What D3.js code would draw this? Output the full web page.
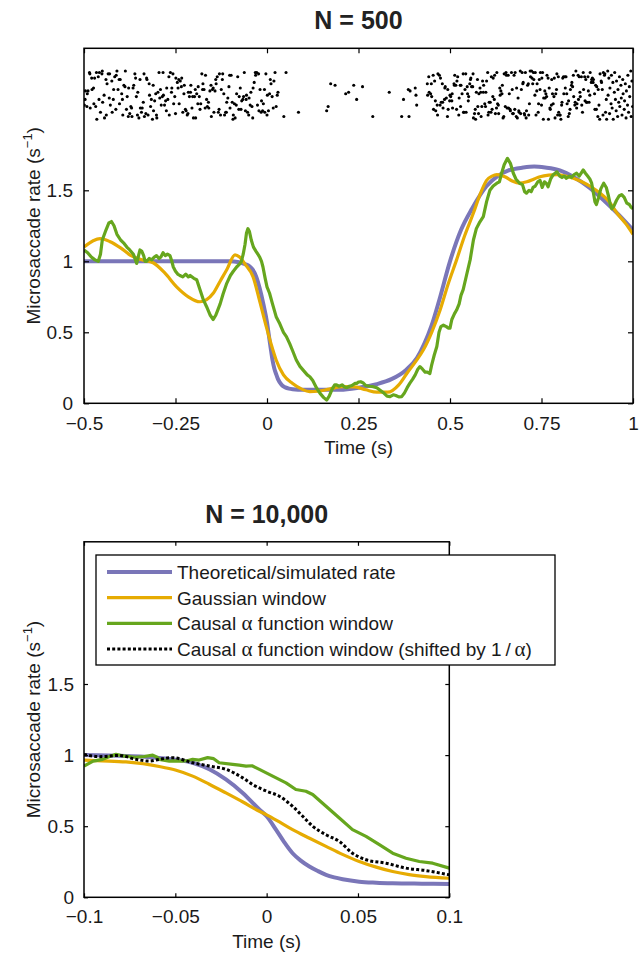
<!DOCTYPE html>
<html><head><meta charset="utf-8">
<script src="https://cdn.jsdelivr.net/npm/d3@7"></script>
<style>
body{margin:0;background:#fff}
svg{font-family:"Liberation Sans",Arial,Helvetica,sans-serif}
</style></head>
<body><svg id="chart" width="643" height="953"></svg>
<script>
// ---------------- DATA ----------------
const topTitle = "N = 500";
const bottomTitle = "N = 10,000";
const xLabel = "Time (s)";
const topXTicks = [-0.5,-0.25,0,0.25,0.5,0.75,1];
const topXTickLabels = ["\u22120.5","\u22120.25","0","0.25","0.5","0.75","1"];
const botXTicks = [-0.1,-0.05,0,0.05,0.1];
const botXTickLabels = ["\u22120.1","\u22120.05","0","0.05","0.1"];
const yTicks = [0,0.5,1,1.5];
const yTickLabels = ["0","0.5","1","1.5"];
const legendLabels = [
  ["Theoretical/simulated rate"],
  ["Gaussian window"],
  ["Causal ","\u03b1"," function window"],
  ["Causal ","\u03b1"," function window (shifted by 1\u2009/\u2009","\u03b1",")"]
];

// N = 500 : theoretical rate [t, rate]
const theoTop = [[-0.5,1],[-0.1,1],[-0.08,0.995],[-0.06,0.98],[-0.05,0.97],[-0.04,0.945],[-0.03,0.895],[-0.02,0.81],[-0.01,0.70],[0,0.57],[0.005,0.48],[0.01,0.39],[0.015,0.305],[0.02,0.245],[0.025,0.205],[0.03,0.17],[0.04,0.13],[0.05,0.112],[0.06,0.103],[0.07,0.099],[0.1,0.095],[0.2,0.096],[0.25,0.11],[0.3,0.135],[0.34,0.17],[0.38,0.235],[0.41,0.32],[0.43,0.42],[0.45,0.55],[0.47,0.72],[0.5,1.0],[0.53,1.22],[0.56,1.37],[0.6,1.53],[0.63,1.6],[0.66,1.64],[0.7,1.66],[0.73,1.667],[0.76,1.66],[0.8,1.64],[0.84,1.59],[0.88,1.52],[0.92,1.43],[0.96,1.33],[1.0,1.22]];
// N = 500 : Gaussian window estimate
const gaussTop = [[-0.5,1.10],[-0.475,1.145],[-0.456,1.16],[-0.43,1.14],[-0.4,1.095],[-0.374,1.044],[-0.34,1.01],[-0.311,0.99],[-0.28,0.92],[-0.247,0.82],[-0.215,0.75],[-0.183,0.715],[-0.165,0.73],[-0.147,0.775],[-0.128,0.86],[-0.11,0.94],[-0.0875,1.045],[-0.075,1.03],[-0.06,0.98],[-0.038,0.89],[-0.02,0.72],[-0.002,0.54],[0.012,0.41],[0.025,0.305],[0.045,0.2],[0.07,0.14],[0.095,0.1],[0.117,0.082],[0.14,0.085],[0.17,0.1],[0.208,0.117],[0.24,0.115],[0.27,0.095],[0.3,0.078],[0.33,0.078],[0.36,0.13],[0.382,0.21],[0.405,0.29],[0.427,0.375],[0.45,0.5],[0.473,0.657],[0.495,0.84],[0.518,1.01],[0.54,1.18],[0.564,1.34],[0.582,1.47],[0.6,1.57],[0.615,1.60],[0.628,1.61],[0.65,1.595],[0.67,1.565],[0.69,1.55],[0.71,1.56],[0.73,1.58],[0.746,1.596],[0.77,1.607],[0.792,1.61],[0.815,1.6],[0.837,1.585],[0.86,1.56],[0.885,1.525],[0.91,1.48],[0.935,1.42],[0.956,1.34],[0.98,1.265],[1.0,1.19]];
// N = 500 : causal alpha function window estimate
const alphaTop = [[-0.5,1.08],[-0.49,1.06],[-0.48,1.03],[-0.47,1.01],[-0.461,1.0],[-0.455,1.05],[-0.45,1.15],[-0.44,1.22],[-0.432,1.27],[-0.425,1.28],[-0.418,1.25],[-0.41,1.19],[-0.40,1.15],[-0.392,1.13],[-0.383,1.10],[-0.375,1.08],[-0.365,1.05],[-0.356,0.985],[-0.351,1.04],[-0.347,1.08],[-0.342,1.07],[-0.337,1.04],[-0.333,1.0],[-0.329,1.0],[-0.322,1.02],[-0.315,1.01],[-0.308,1.03],[-0.302,1.04],[-0.295,1.02],[-0.29,1.03],[-0.284,1.06],[-0.278,1.04],[-0.272,1.05],[-0.265,1.04],[-0.26,1.0],[-0.256,0.96],[-0.25,0.93],[-0.244,0.91],[-0.238,0.90],[-0.23,0.89],[-0.222,0.91],[-0.215,0.89],[-0.21,0.90],[-0.2,0.88],[-0.192,0.87],[-0.183,0.8],[-0.174,0.73],[-0.165,0.68],[-0.155,0.62],[-0.147,0.59],[-0.14,0.62],[-0.134,0.66],[-0.128,0.70],[-0.12,0.77],[-0.11,0.845],[-0.1,0.9],[-0.092,0.93],[-0.083,0.96],[-0.075,0.98],[-0.07,1.0],[-0.065,1.05],[-0.06,1.12],[-0.056,1.2],[-0.052,1.23],[-0.048,1.21],[-0.043,1.15],[-0.037,1.1],[-0.03,1.07],[-0.025,1.05],[-0.02,1.03],[-0.015,1.0],[-0.011,0.96],[-0.005,0.88],[0.0,0.82],[0.007,0.775],[0.015,0.7],[0.025,0.61],[0.035,0.56],[0.045,0.5],[0.053,0.47],[0.062,0.42],[0.07,0.37],[0.08,0.305],[0.09,0.26],[0.1,0.23],[0.11,0.2],[0.117,0.187],[0.125,0.16],[0.135,0.11],[0.145,0.07],[0.155,0.04],[0.163,0.023],[0.17,0.05],[0.178,0.1],[0.185,0.13],[0.19,0.13],[0.197,0.12],[0.205,0.13],[0.212,0.115],[0.218,0.11],[0.225,0.12],[0.232,0.125],[0.24,0.14],[0.245,0.14],[0.25,0.15],[0.256,0.152],[0.262,0.145],[0.27,0.125],[0.28,0.12],[0.29,0.117],[0.3,0.11],[0.31,0.09],[0.32,0.07],[0.328,0.05],[0.336,0.047],[0.345,0.06],[0.352,0.055],[0.36,0.045],[0.368,0.047],[0.375,0.07],[0.383,0.11],[0.39,0.14],[0.398,0.17],[0.405,0.2],[0.412,0.24],[0.418,0.258],[0.425,0.24],[0.432,0.22],[0.438,0.22],[0.445,0.21],[0.45,0.27],[0.457,0.34],[0.464,0.40],[0.47,0.5],[0.475,0.54],[0.482,0.55],[0.49,0.54],[0.495,0.53],[0.5,0.53],[0.505,0.59],[0.512,0.63],[0.518,0.657],[0.525,0.7],[0.53,0.76],[0.536,0.8],[0.545,0.9],[0.555,1.01],[0.564,1.15],[0.572,1.23],[0.58,1.27],[0.591,1.314],[0.6,1.42],[0.609,1.5],[0.618,1.53],[0.628,1.55],[0.635,1.56],[0.641,1.62],[0.648,1.68],[0.657,1.725],[0.665,1.69],[0.673,1.62],[0.68,1.58],[0.69,1.55],[0.698,1.54],[0.704,1.49],[0.709,1.48],[0.716,1.50],[0.722,1.49],[0.727,1.52],[0.733,1.53],[0.74,1.56],[0.746,1.57],[0.752,1.52],[0.758,1.56],[0.763,1.55],[0.768,1.525],[0.775,1.58],[0.782,1.61],[0.787,1.62],[0.792,1.63],[0.8,1.6],[0.806,1.59],[0.812,1.6],[0.818,1.585],[0.826,1.6],[0.832,1.59],[0.839,1.61],[0.846,1.62],[0.853,1.6],[0.858,1.62],[0.864,1.643],[0.87,1.62],[0.876,1.6],[0.882,1.58],[0.887,1.55],[0.892,1.48],[0.896,1.42],[0.9,1.40],[0.906,1.45],[0.912,1.51],[0.92,1.55],[0.927,1.52],[0.933,1.46],[0.938,1.40],[0.942,1.37],[0.948,1.39],[0.955,1.43],[0.962,1.46],[0.969,1.47],[0.976,1.45],[0.983,1.41],[0.99,1.40],[0.995,1.38],[1.0,1.37]];

// N = 500 raster (ms) — dense before the dip, sparse during it, dense after
const rasterTimesMs = [-499,-497,-496,-492,-491,-489,-485,-484,-483,-479,-478,-474,-473,-471,-468,-466,-465,-461,-459,-458,-455,-451,-450,-449,-445,-444,-440,-439,-437,-434,-431,-430,-428,-424,-423,-420,-419,-416,-413,-412,-410,-407,-404,-403,-401,-397,-395,-394,-391,-388,-387,-384,-382,-379,-378,-375,-372,-370,-369,-366,-364,-361,-359,-357,-354,-353,-350,-347,-346,-343,-341,-338,-336,-335,-331,-329,-328,-325,-322,-321,-318,-316,-313,-311,-310,-307,-304,-302,-301,-298,-295,-293,-291,-289,-286,-284,-283,-280,-277,-275,-274,-271,-268,-267,-264,-261,-260,-257,-255,-252,-250,-249,-245,-243,-241,-240,-237,-234,-233,-230,-227,-226,-223,-221,-218,-216,-215,-212,-209,-208,-205,-203,-201,-198,-196,-195,-192,-189,-188,-185,-183,-181,-178,-176,-175,-172,-169,-168,-165,-163,-160,-159,-156,-153,-152,-149,-147,-145,-142,-140,-139,-136,-133,-131,-130,-127,-125,-122,-121,-118,-116,-113,-111,-110,-107,-104,-102,-101,-98,-95,-93,-92,-89,-87,-84,-83,-80,-77,-76,-73,-71,-69,-66,-64,-62,-59,-57,-56,-53,-50,-49,-46,-44,-41,-39,-38,-35,-32,-31,-28,-26,-23,-22,-19,-16,-15,-12,-10,-7,-6,-3,0,1,4,7,9,11,14,17,19,22,25,28,30,
438,439,442,443,447,449,450,454,455,458,460,461,465,466,467,471,473,474,476,479,480,481,485,486,487,490,493,494,495,499,500,502,505,506,507,511,512,513,516,518,519,521,524,525,528,529,530,533,536,537,538,541,543,544,547,548,550,551,554,556,557,559,562,563,564,567,569,570,572,575,576,578,579,582,584,585,587,589,591,592,595,597,598,600,603,604,606,607,610,612,613,615,617,618,621,622,624,627,628,630,632,633,636,637,639,642,643,645,647,648,651,653,654,656,659,660,662,664,665,668,670,671,673,675,677,678,681,682,684,686,688,689,692,693,695,697,699,700,703,704,706,708,709,712,714,715,717,719,720,723,724,726,728,729,732,733,735,737,738,741,742,744,746,747,750,751,753,755,756,759,760,762,764,765,768,769,771,773,774,777,778,780,782,784,785,787,789,791,792,794,796,797,800,801,803,805,806,808,810,811,814,815,817,819,820,823,824,826,828,829,832,833,835,837,838,841,842,844,846,847,850,851,853,855,856,859,860,862,864,865,868,869,871,873,874,877,878,880,882,883,886,887,889,891,892,895,896,898,900,901,904,905,907,909,910,913,914,916,918,919,922,923,925,927,928,931,932,934,936,937,940,941,943,945,946,949,950,952,954,955,958,959,961,963,964,967,968,970,972,973,976,977,979,981,982,985,986,988,990,991,994,995,997,999];
// vertical slot (0..34) of each raster dot above
const rasterRows = [10,14,20,9,18,20,33,32,8,29,21,22,11,29,9,33,0,30,14,33,5,32,34,12,17,1,28,3,25,32,15,32,10,27,5,14,21,30,7,31,34,21,28,11,28,18,14,3,24,23,34,7,16,2,22,4,9,8,2,22,24,32,29,16,3,19,1,28,8,5,8,12,32,2,4,29,28,3,25,17,9,14,0,24,6,13,18,3,1,19,33,15,21,10,16,33,17,10,13,6,22,14,30,3,33,19,22,32,11,16,4,29,26,22,28,11,27,23,29,5,18,24,7,6,3,4,19,16,19,24,8,16,1,16,21,1,18,11,23,16,7,11,32,21,25,21,8,31,14,9,12,8,20,24,2,21,22,5,20,28,25,30,5,7,32,3,21,28,32,18,3,5,5,12,15,23,31,8,31,12,0,3,11,1,10,18,30,7,16,22,7,13,14,16,33,6,14,17,5,3,15,10,19,9,1,22,26,33,31,33,10,32,6,21,5,13,6,11,21,5,32,3,17,6,18,28,25,16,8,27,33,9,17,19,25,17,30,19,18,25,16,31,7,27,13,6,10,3,32,31,10,29,12,25,12,8,14,22,23,15,2,21,7,13,17,16,13,18,8,25,24,31,24,7,27,30,3,15,24,9,24,18,32,5,5,21,32,5,23,18,13,16,25,28,29,23,23,32,1,4,7,0,19,28,9,4,18,22,19,2,9,27,19,24,11,9,19,27,33,3,5,12,12,5,30,7,16,29,14,31,4,8,33,11,10,4,22,17,20,18,24,1,2,32,9,33,31,8,31,8,18,7,6,33,21,4,4,31,7,33,2,22,1,15,6,5,34,4,21,33,25,26,4,3,33,1,6,24,25,3,11,34,30,34,29,25,33,28,17,33,3,20,25,5,11,28,21,33,10,29,33,0,15,20,15,18,16,31,29,0,22,8,7,10,28,18,11,16,29,1,18,21,32,3,30,5,3,3,0,10,12,29,30,18,30,22,30,18,11,2,13,4,7,21,24,26,23,31,16,10,12,34,8,11,31,14,30,19,16,30,10,5,33,21,30,13,28,12,12,30,20,12,17,33,26,28,29,26,28,18,7,24,7,23,2,21,10,0,32,27,26,21,3,33,31,32,5,14,0,34,17,29,4,22,11,31,8,26,0,19,33,14,6,27,2,21,12,30,9,24,15,3,28,18,7,13,25,1,20,10,31,5,23,16,34,2,27,9,19];
// sparse events during the rate dip: [ms, slot]
const rasterSparse = [[46,2],[52,33],[86,5],[163,6],[167,9],[174,25],[186,24],[215,18],[223,19],[237,24],[245,14],[261,23],[289,2],[334,19],[368,2],[373,14],[386,21],[388,2],[391,20],[405,22],[407,17],[409,10]];

// N = 10,000 (zoomed window)
const theoBot = [[-0.1,1.0],[-0.077,0.993],[-0.0588,0.98],[-0.0405,0.946],[-0.0314,0.90],[-0.0223,0.829],[-0.0131,0.734],[-0.004,0.617],[0,0.57],[0.0051,0.476],[0.0095,0.39],[0.0142,0.31],[0.0185,0.26],[0.0234,0.217],[0.028,0.185],[0.0325,0.158],[0.037,0.14],[0.0416,0.127],[0.0507,0.11],[0.06,0.103],[0.069,0.099],[0.085,0.096],[0.1,0.094]];
const gaussBot = [[-0.1,0.965],[-0.09,0.96],[-0.077,0.952],[-0.0588,0.92],[-0.05,0.895],[-0.0405,0.852],[-0.0314,0.795],[-0.0223,0.734],[-0.013,0.67],[-0.004,0.605],[0,0.58],[0.007,0.53],[0.0142,0.476],[0.0235,0.415],[0.0325,0.358],[0.0415,0.302],[0.0507,0.252],[0.06,0.212],[0.069,0.181],[0.078,0.16],[0.0872,0.146],[0.1,0.134]];
const alphaBot = [[-0.1,0.923],[-0.095,0.958],[-0.0898,0.97],[-0.086,0.99],[-0.0825,1.005],[-0.079,0.995],[-0.077,0.993],[-0.072,0.985],[-0.067,0.99],[-0.0624,1.0],[-0.06,0.985],[-0.0588,0.97],[-0.0533,0.958],[-0.05,0.96],[-0.046,0.958],[-0.043,0.962],[-0.0405,0.97],[-0.037,0.965],[-0.0323,0.982],[-0.029,0.975],[-0.026,0.946],[-0.0186,0.935],[-0.015,0.93],[-0.0113,0.923],[-0.008,0.925],[-0.004,0.9],[0.0033,0.852],[0.0106,0.805],[0.016,0.758],[0.0215,0.746],[0.0252,0.723],[0.0325,0.64],[0.0398,0.558],[0.047,0.476],[0.0544,0.428],[0.0617,0.37],[0.069,0.31],[0.0763,0.275],[0.0836,0.252],[0.0909,0.24],[0.1,0.205]];
const shiftedBot = [[-0.1,1.005],[-0.0916,0.989],[-0.0807,0.998],[-0.0715,0.97],[-0.0642,0.958],[-0.0588,0.97],[-0.0515,0.982],[-0.0405,0.946],[-0.0314,0.923],[-0.0223,0.9],[-0.0131,0.84],[-0.0077,0.793],[0,0.746],[0.0069,0.711],[0.0142,0.64],[0.0197,0.57],[0.0252,0.5],[0.0325,0.44],[0.0398,0.393],[0.047,0.31],[0.0544,0.264],[0.0653,0.24],[0.0763,0.205],[0.0872,0.188],[0.1,0.158]];

// ---------------- STYLE ----------------
const C = {theo:"#7a76b8", gauss:"#e6ab02", alpha:"#66a61e", shifted:"#000"};
const svg = d3.select("#chart");
const FS = 19;
const SERIF = '"Liberation Serif","DejaVu Serif",serif';

function panel(o){
  const g = svg.append("g");
  const x = d3.scaleLinear().domain(o.xDomain).range([o.left,o.right]);
  const y = d3.scaleLinear().domain([0,2.5]).range([o.bottom,o.top]);
  const id = "clip"+o.name;
  svg.append("clipPath").attr("id",id).append("rect")
    .attr("x",o.left).attr("y",o.top).attr("width",o.right-o.left).attr("height",o.bottom-o.top);

  const line = d3.line().x(d=>x(d[0])).y(d=>y(d[1]));
  const lines = g.append("g").attr("clip-path",`url(#${id})`);
  o.series.forEach(s=>{
    lines.append("path").datum(s.data).attr("d",line.curve(s.curve||d3.curveLinear))
      .attr("fill","none").attr("stroke",s.color).attr("stroke-width",s.w)
      .attr("stroke-dasharray",s.dash||null).attr("stroke-linejoin","round");
  });
  if(o.raster){
    g.append("g").attr("clip-path",`url(#${id})`).selectAll("circle").data(o.raster).join("circle")
      .attr("cx",d=>x(d[0]/1000)).attr("cy",d=>y(2+d[1]/100)).attr("r",1.55).attr("fill","#000");
  }
  g.append("rect").attr("x",o.left).attr("y",o.top).attr("width",o.right-o.left).attr("height",o.bottom-o.top)
    .attr("fill","none").attr("stroke","#000").attr("stroke-width",1.5);
  const tl = o.tick;
  const ax = (gen, tr)=>{
    const a = g.append("g").attr("transform",tr).call(gen);
    a.select(".domain").remove();
    a.selectAll(".tick line").attr("stroke","#000").attr("stroke-width",1.2);
    a.selectAll("text").attr("font-size",FS).attr("fill","#1a1a1a").attr("font-family",'"Liberation Sans",Arial,sans-serif');
    return a;
  };
  ax(d3.axisBottom(x).tickValues(o.xTicks).tickFormat((d,i)=>o.xLabels[i]).tickSize(-tl).tickPadding(tl+8), `translate(0,${o.bottom})`);
  ax(d3.axisTop(x).tickValues(o.xTicks).tickFormat("").tickSize(-tl), `translate(0,${o.top})`);
  ax(d3.axisLeft(y).tickValues(yTicks).tickFormat((d,i)=>yTickLabels[i]).tickSize(-tl).tickPadding(tl+6), `translate(${o.left},0)`);
  ax(d3.axisRight(y).tickValues(yTicks).tickFormat("").tickSize(-tl), `translate(${o.right},0)`);

  svg.append("text").attr("x",(o.left+o.right)/2).attr("y",o.top-19).attr("text-anchor","middle")
    .attr("font-size",25).attr("font-weight","bold").attr("fill","#222").text(o.title);
  svg.append("text").attr("x",(o.left+o.right)/2).attr("y",o.bottom+51).attr("text-anchor","middle")
    .attr("font-size",FS).attr("fill","#1a1a1a").text(xLabel);
  const yl = svg.append("text").attr("transform",`translate(40,${(o.top+o.bottom)/2}) rotate(-90)`)
    .attr("text-anchor","middle").attr("font-size",FS).attr("fill","#1a1a1a");
  yl.append("tspan").text("Microsaccade rate (s");
  yl.append("tspan").attr("dy",-8).attr("font-size",13).text("\u22121");
  yl.append("tspan").attr("dy",8).text(")");
  return {x,y,g};
}

const nDense = Math.min(rasterTimesMs.length, rasterRows.length);
const rasterPts = d3.range(nDense).map(i=>[rasterTimesMs[i], rasterRows[i]]).concat(rasterSparse);

panel({name:"top", title:topTitle, xDomain:[-0.5,1], left:84, right:633, top:48.3, bottom:403.3, tick:5,
  xTicks:topXTicks, xLabels:topXTickLabels, raster:rasterPts,
  series:[
    {data:theoTop, color:C.theo, w:4, curve:d3.curveMonotoneX},
    {data:gaussTop, color:C.gauss, w:3.2, curve:d3.curveMonotoneX},
    {data:alphaTop, color:C.alpha, w:3.2}
  ]});

panel({name:"bot", title:bottomTitle, xDomain:[-0.1,0.1], left:84, right:449.3, top:541.8, bottom:897.3, tick:4,
  xTicks:botXTicks, xLabels:botXTickLabels,
  series:[
    {data:theoBot, color:C.theo, w:4, curve:d3.curveMonotoneX},
    {data:gaussBot, color:C.gauss, w:3.2, curve:d3.curveMonotoneX},
    {data:alphaBot, color:C.alpha, w:3.2},
    {data:shiftedBot, color:C.shifted, w:3, dash:"3,2.2", curve:d3.curveMonotoneX}
  ]});

// legend
const L = {x:96, y:555, w:459, h:110};
const lg = svg.append("g");
lg.append("rect").attr("x",L.x).attr("y",L.y).attr("width",L.w).attr("height",L.h)
  .attr("fill","#fff").attr("stroke","#000").attr("stroke-width",1.3);
const legendItems = [
  {c:C.theo, w:4}, {c:C.gauss, w:3.2}, {c:C.alpha, w:3.2}, {c:C.shifted, w:3, dash:"3,2.2"}
];
const rowY = d3.scalePoint().domain(d3.range(legendLabels.length)).range([572,649]);
legendLabels.forEach((parts,i)=>{
  lg.append("line").attr("x1",107).attr("x2",172).attr("y1",rowY(i)).attr("y2",rowY(i))
    .attr("stroke",legendItems[i].c).attr("stroke-width",legendItems[i].w).attr("stroke-dasharray",legendItems[i].dash||null);
  const t = lg.append("text").attr("x",177).attr("y",rowY(i)+7).attr("font-size",FS).attr("fill","#1a1a1a");
  parts.forEach(p=>{
    const ts = t.append("tspan").text(p);
    if(p==="\u03b1") ts.attr("font-family",SERIF).attr("font-size",FS+2);
  });
});
</script></body></html>
